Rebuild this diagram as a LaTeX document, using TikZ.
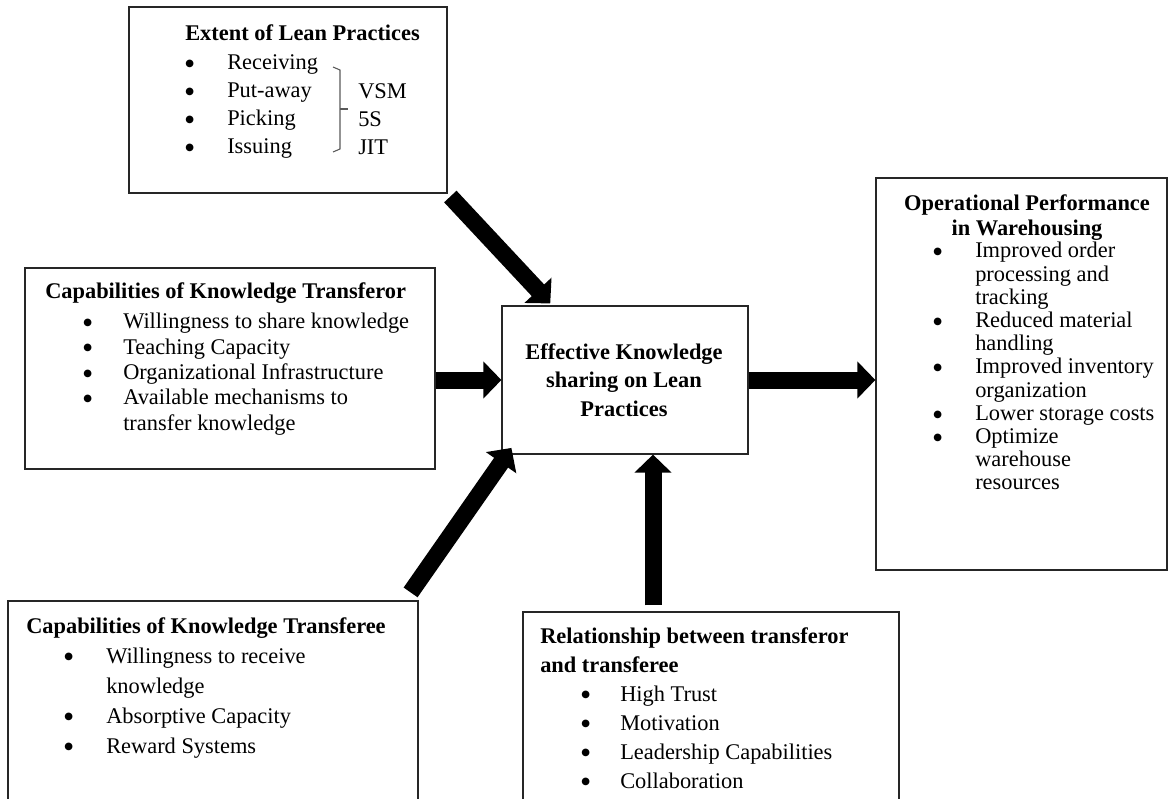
\documentclass[tikz,border=0pt]{standalone}
\usepackage{fontspec}
\setmainfont{Liberation Serif}
\newfontfamily\dotfont{DejaVu Sans}
\usetikzlibrary{arrows.meta}
\newcommand{\bitem}[3]{\hspace*{#1}\makebox[#2][l]{\raisebox{2.4pt}{\dotfont\fontsize{7.5}{0}\selectfont ●}}#3}

\begin{document}
\begin{tikzpicture}[x=0.75pt, y=-0.75pt,
	box/.style={draw=black!85, line width=0.9pt, inner sep=0pt},
	txt/.style={anchor=north west, inner sep=0pt, align=left},
	fat/.style={line width=12.75pt, -{Triangle[width=27pt,length=13.5pt]}}]
	\useasboundingbox (0,0) rectangle (1172,799);
	\clip (0,0) rectangle (1172,799);

	% boxes
	\node[box, minimum width=238.5pt, minimum height=139.5pt] (lean) at (288,100) {};
	\node[box, minimum width=307.5pt, minimum height=150.75pt] (giver) at (230,368.5) {};
	\node[box, minimum width=184.5pt, minimum height=111pt] (core) at (625,380) {};
	\node[box, minimum width=218.25pt, minimum height=294pt] (perf) at (1021.5,374) {};
	\node[box, minimum width=307.5pt, minimum height=171.75pt] (taker) at (213,715.5) {};
	\node[box, minimum width=282pt, minimum height=171pt] (rel) at (711,726) {};

	% texts
	\node[txt, font=\fontsize{16.8}{21}\selectfont] (leantxt) at (185,24) {\textbf{Extent of Lean Practices}\\[1pt]
		\bitem{0pt}{31.5pt}{Receiving}\\ \bitem{0pt}{31.5pt}{Put-away}\\
		\bitem{0pt}{31.5pt}{Picking}\\ \bitem{0pt}{31.5pt}{Issuing}};
	\node[txt, font=\fontsize{16.8}{21}\selectfont] (leantags) at (358,83) {VSM\\5S\\JIT};
	\draw[black!65, line width=0.8pt] (333,67) -- (340,70) -- (340,149) -- (333,152);
	\draw[black!65, line width=0.8pt] (340,109) -- (348,109);

	\node[txt, font=\fontsize{16.8}{19}\selectfont] (givertxt) at (45,282) {\textbf{Capabilities of Knowledge Transferor}\\[4pt]
		\bitem{28.5pt}{30pt}{Willingness to share knowledge}\\
		\bitem{28.5pt}{30pt}{Teaching Capacity}\\
		\bitem{28.5pt}{30pt}{Organizational Infrastructure}\\
		\bitem{28.5pt}{30pt}{Available mechanisms to}\\
		\hspace*{58.5pt}transfer knowledge};

	\node[align=center, inner sep=0pt, font=\fontsize{16.8}{21.4}\selectfont\bfseries] (coretxt) at (624,380)
		{Effective Knowledge\\sharing on Lean\\Practices};

	\node[anchor=north, align=center, inner sep=0pt, font=\fontsize{16.8}{18.75}\selectfont\bfseries] (perftitle) at (1027,194)
		{Operational Performance\\in Warehousing};
	\node[txt, font=\fontsize{16.8}{17.4}\selectfont] (perftxt) at (933,242) {\bitem{0pt}{31.5pt}{Improved order}\\
		\hspace*{31.5pt}processing and\\ \hspace*{31.5pt}tracking\\
		\bitem{0pt}{31.5pt}{Reduced material}\\ \hspace*{31.5pt}handling\\
		\bitem{0pt}{31.5pt}{Improved inventory}\\ \hspace*{31.5pt}organization\\
		\bitem{0pt}{31.5pt}{Lower storage costs}\\
		\bitem{0pt}{31.5pt}{Optimize}\\ \hspace*{31.5pt}warehouse\\ \hspace*{31.5pt}resources};

	\node[txt, font=\fontsize{16.8}{22.5}\selectfont] (takertxt) at (26,617) {\textbf{Capabilities of Knowledge Transferee}\\
		\bitem{28.5pt}{31.5pt}{Willingness to receive}\\
		\hspace*{60pt}knowledge\\
		\bitem{28.5pt}{31.5pt}{Absorptive Capacity}\\
		\bitem{28.5pt}{31.5pt}{Reward Systems}};

	\node[txt, font=\fontsize{16.8}{21.75}\selectfont] (reltxt) at (540,627) {\textbf{Relationship between transferor}\\
		\textbf{and transferee}\\
		\bitem{30.75pt}{29.25pt}{High Trust}\\
		\bitem{30.75pt}{29.25pt}{Motivation}\\
		\bitem{30.75pt}{29.25pt}{Leadership Capabilities}\\
		\bitem{30.75pt}{29.25pt}{Collaboration}};

	% arrows
	\draw[fat, shorten <=3pt, shorten >=2pt] (lean.south east) -- ([xshift=38pt]core.north west);
	\draw[fat] (core.west -| giver.east) -- (core.west);
	\draw[fat] (core.east) -- (core.east -| perf.west);
	\draw[fat] ([xshift=-6pt,yshift=6pt]taker.north east) -- ([xshift=7.5pt,yshift=5pt]core.south west);
	\draw[fat, shorten <=4.5pt] ([xshift=21pt]core.south |- rel.north) -- ([xshift=21pt]core.south);
\end{tikzpicture}
\end{document}
